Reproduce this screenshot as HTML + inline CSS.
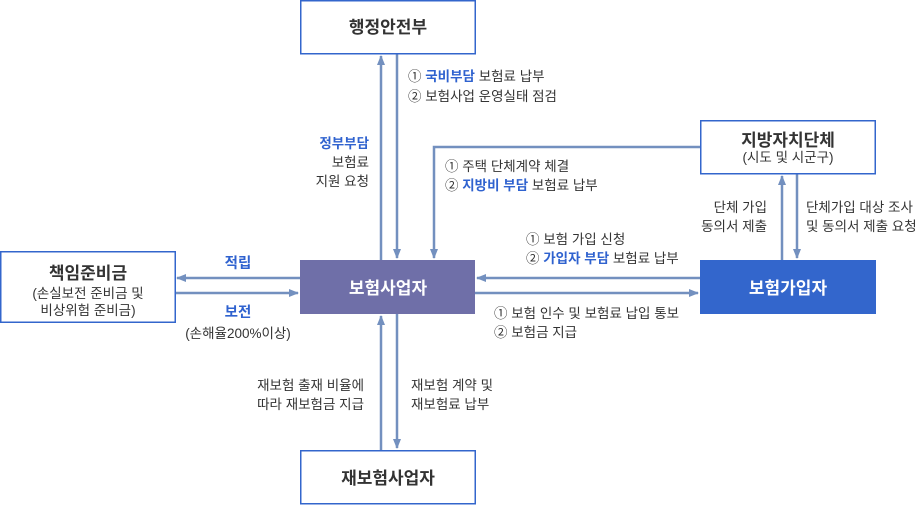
<!DOCTYPE html>
<html><head><meta charset="utf-8"><style>
body{margin:0;background:#fff;}
svg text{font-family:"Liberation Sans","Noto Sans CJK KR",sans-serif;fill:#333;}
.b{fill:#2f62cf;font-weight:bold;}
</style></head><body>
<svg width="917" height="505" viewBox="0 0 917 505" xmlns="http://www.w3.org/2000/svg">
<defs>
<marker id="a" markerWidth="10" markerHeight="8" refX="9" refY="4" orient="auto" markerUnits="userSpaceOnUse"><path d="M0,0 L10,4 L0,8 Z" fill="#7390bf"/></marker>
</defs>
<g stroke="#7390bf" stroke-width="2.5" fill="none">
<line x1="381" y1="260" x2="381" y2="56" marker-end="url(#a)"/>
<line x1="397" y1="54" x2="397" y2="258" marker-end="url(#a)"/>
<polyline points="700,147 434,147 434,258" marker-end="url(#a)"/>
<line x1="782" y1="260" x2="782" y2="176" marker-end="url(#a)"/>
<line x1="797" y1="174" x2="797" y2="258" marker-end="url(#a)"/>
<line x1="700" y1="278" x2="477" y2="278" marker-end="url(#a)"/>
<line x1="475" y1="293" x2="698" y2="293" marker-end="url(#a)"/>
<line x1="300" y1="278" x2="177" y2="278" marker-end="url(#a)"/>
<line x1="175" y1="293" x2="298" y2="293" marker-end="url(#a)"/>
<line x1="381" y1="450" x2="381" y2="316" marker-end="url(#a)"/>
<line x1="397" y1="314" x2="397" y2="448" marker-end="url(#a)"/>
</g>
<g stroke="#3366cc" stroke-width="1.5" fill="#fff">
<rect x="300.75" y="0.75" width="174.5" height="53"/>
<rect x="700.75" y="120.75" width="174.5" height="53"/>
<rect x="0.75" y="251.75" width="174.5" height="70.5"/>
<rect x="300.75" y="450.75" width="174.5" height="53"/>
</g>
<rect x="300" y="260" width="175" height="54" fill="#6f6fa8"/>
<rect x="700" y="260" width="176" height="54" fill="#3366cc"/>
<g text-anchor="middle" font-weight="bold" font-size="17">
<text x="388" y="33">행정안전부</text>
<text x="788" y="146">지방자치단체</text>
<text x="88" y="279">책임준비금</text>
<text x="388" y="484">재보험사업자</text>
<text x="388" y="294" style="fill:#fff">보험사업자</text>
<text x="788" y="294" style="fill:#fff">보험가입자</text>
</g>
<g font-size="13.5">
<text x="788" y="162" text-anchor="middle">(시도 및 시군구)</text>
<text x="88" y="298" text-anchor="middle">(손실보전 준비금 및</text>
<text x="88" y="315" text-anchor="middle">비상위험 준비금)</text>
<text x="408" y="81">① <tspan class="b">국비부담</tspan> 보험료 납부</text>
<text x="408" y="101">② 보험사업 운영실태 점검</text>
<text x="369" y="148" text-anchor="end" class="b">정부부담</text>
<text x="369" y="167" text-anchor="end">보험료</text>
<text x="369" y="186" text-anchor="end">지원 요청</text>
<text x="445" y="171">① 주택 단체계약 체결</text>
<text x="445" y="190">② <tspan class="b">지방비 부담</tspan> 보험료 납부</text>
<text x="767" y="212" text-anchor="end">단체 가입</text>
<text x="767" y="231" text-anchor="end">동의서 제출</text>
<text x="806" y="212">단체가입 대상 조사</text>
<text x="806" y="231">및 동의서 제출 요청</text>
<text x="526" y="244">① 보험 가입 신청</text>
<text x="526" y="263">② <tspan class="b">가입자 부담</tspan> 보험료 납부</text>
<text x="494" y="318">① 보험 인수 및 보험료 납입 통보</text>
<text x="494" y="337">② 보험금 지급</text>
<text x="238" y="268" text-anchor="middle" class="b" font-size="14.5">적립</text>
<text x="238" y="317" text-anchor="middle" class="b" font-size="14.5">보전</text>
<text x="238" y="338" text-anchor="middle">(손해율200%이상)</text>
<text x="364" y="390" text-anchor="end">재보험 출재 비율에</text>
<text x="364" y="409" text-anchor="end">따라 재보험금 지급</text>
<text x="411" y="390">재보험 계약 및</text>
<text x="411" y="409">재보험료 납부</text>
</g>
</svg>
</body></html>
